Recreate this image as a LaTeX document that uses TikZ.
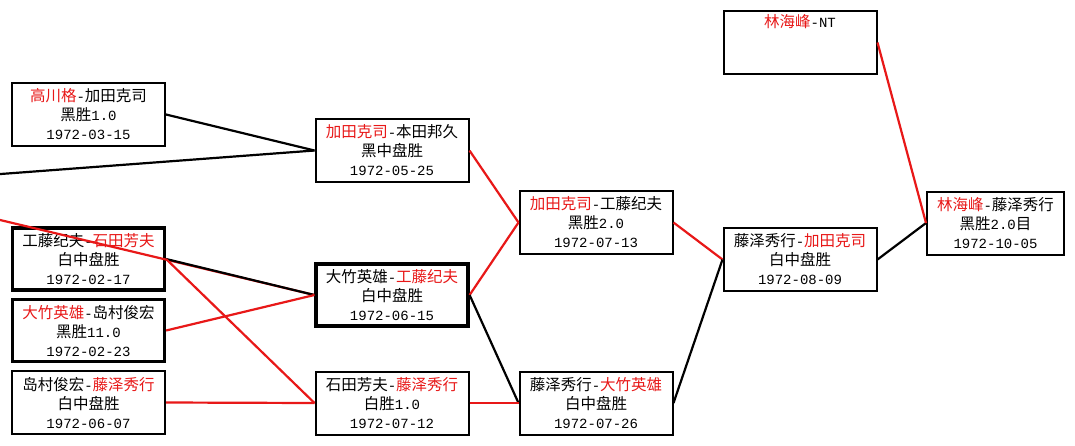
\documentclass[tikz,border=0pt]{standalone}
\usepackage{fontspec}
\setmainfont{Liberation Mono}
\newfontfamily\cjk{Noto Sans CJK SC}
\definecolor{winred}{RGB}{232,24,24}
\newcommand\zh[1]{{\cjk\fontsize{15.5}{19}\selectfont #1}}
\newcommand\rd[1]{{\color{winred}\cjk\fontsize{15.5}{19}\selectfont #1}}
\begin{document}
\begin{tikzpicture}[x=1pt, y=-1pt,
		game/.style={draw, line width=2pt, rectangle, minimum width=153pt, minimum height=63pt, inner sep=0pt, align=center, font=\fontsize{14}{19}\selectfont},
		topgame/.style={game, line width=3.2pt, minimum width=152pt, minimum height=62pt},
		redline/.style={draw=winred, line width=2.2pt},
		blkline/.style={draw=black, line width=2.2pt}]
				\useasboundingbox (0,0) rectangle (1075,445);
				\fill[white] (0,0) rectangle (1075,445);
				% first column
				\node[game] (gA) at (88.5,114.5) {\rd{高川格}-\zh{加田克司}\\ \zh{黑胜}1.0\\ 1972-03-15};
				\node[topgame] (gB) at (88.5,259) {\zh{工藤纪夫}-\rd{石田芳夫}\\ \zh{白中盘胜}\\ 1972-02-17};
				\node[topgame] (gC) at (88.5,330.5) {\rd{大竹英雄}-\zh{岛村俊宏}\\ \zh{黑胜}11.0\\ 1972-02-23};
				\node[game] (gD) at (88.5,402.5) {\zh{岛村俊宏}-\rd{藤泽秀行}\\ \zh{白中盘胜}\\ 1972-06-07};
				% second column
				\node[game] (gE) at (392,150.5) {\rd{加田克司}-\zh{本田邦久}\\ \zh{黑中盘胜}\\ 1972-05-25};
				\node[topgame] (gF) at (392,295) {\zh{大竹英雄}-\rd{工藤纪夫}\\ \zh{白中盘胜}\\ 1972-06-15};
				\node[game] (gG) at (392,403) {\zh{石田芳夫}-\rd{藤泽秀行}\\ \zh{白胜}1.0\\ 1972-07-12};
				% third column
				\node[game] (gH) at (596,222.5) {\rd{加田克司}-\zh{工藤纪夫}\\ \zh{黑胜}2.0\\ 1972-07-13};
				\node[game] (gI) at (596,403) {\zh{藤泽秀行}-\rd{大竹英雄}\\ \zh{白中盘胜}\\ 1972-07-26};
				% fourth column
				\node[game] (gJ) at (800,42.5) {\rd{林海峰}-NT\\ \strut\\ \strut};
				\node[game] (gK) at (800,259.5) {\zh{藤泽秀行}-\rd{加田克司}\\ \zh{白中盘胜}\\ 1972-08-09};
				% final
				\node[game, minimum width=137pt] (gL) at (995.5,223) {\rd{林海峰}-\zh{藤泽秀行}\\ \zh{黑胜}2.0\zh{目}\\ 1972-10-05};
				% games coming in from the left
				\coordinate (inE) at (-10,174.8);
				\coordinate (inF) at (-10,217.6);
				% connectors
				\draw[blkline] (inE) -- (gE.west);
				\draw[blkline] (gA.east) -- (gE.west);
				\draw[redline] (inF) -- (gF.west);
				\draw[blkline] (gB.east) -- (gF.west);
				\draw[redline] (gC.east) -- (gF.west);
				\draw[redline] (gB.east) -- (gG.west);
				\draw[redline] (gD.east) -- (gG.west);
				\draw[redline] (gE.east) -- (gH.west);
				\draw[redline] (gF.east) -- (gH.west);
				\draw[blkline] (gF.east) -- (gI.west);
				\draw[redline] (gG.east) -- (gI.west);
				\draw[redline] (gH.east) -- (gK.west);
				\draw[blkline] (gI.east) -- (gK.west);
				\draw[blkline] (gK.east) -- (gL.west);
				\draw[redline] (gJ.east) -- (gL.west);
			\end{tikzpicture}
\end{document}
